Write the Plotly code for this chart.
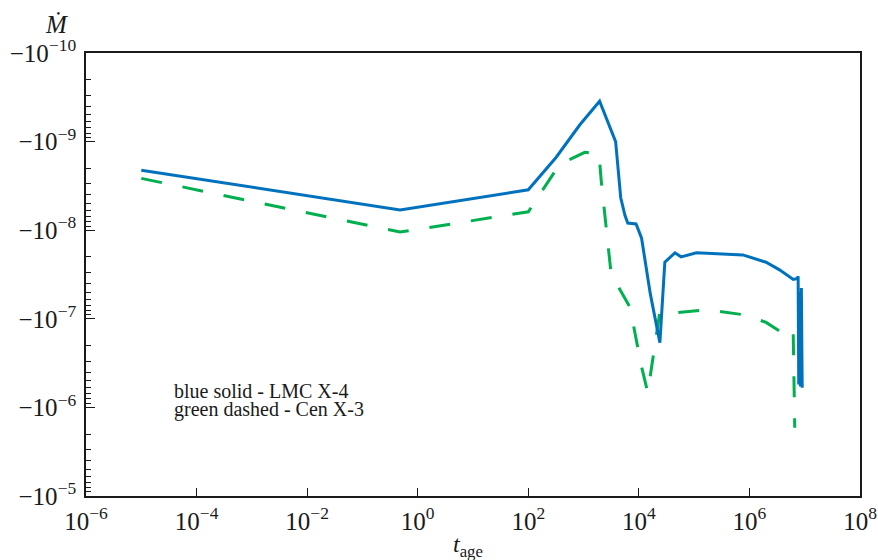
import plotly.graph_objects as go

# LMC X-4 (blue solid): age t and |Mdot|
t_lmc = [1e-5, 0.48, 100, 320, 850, 1950, 3800, 4700, 5600, 6300, 8900, 1.12e4,
         1.6e4, 2.4e4, 2.95e4, 4.5e4, 5.8e4, 1.1e5, 7.6e5, 2.0e6, 3.5e6, 6.2e6,
         7.4e6, 7.6e6, 7.8e6, 8.1e6, 8.4e6, 8.7e6, 9.0e6]
m_lmc = [2.1e-9, 5.9e-9, 3.5e-9, 1.5e-9, 6.5e-10, 3.5e-10, 1.0e-9, 4.3e-9, 6.8e-9,
         8.3e-9, 8.5e-9, 1.23e-8, 5.1e-8, 1.86e-7, 2.3e-8, 1.8e-8, 2.0e-8, 1.8e-8,
         1.9e-8, 2.3e-8, 2.8e-8, 3.6e-8, 3.5e-8, 3.3e-8, 5.5e-7, 5.0e-8, 5.8e-7,
         4.5e-8, 6.0e-7]

# Cen X-3 (green dashed)
t_cen = [1e-5, 0.48, 100, 370, 1050, 1900, 2100, 2750, 3200, 4200, 6900, 1.12e4,
         1.45e4, 2.4e4, 3.6e4, 1.7e5, 3.3e5, 8.9e5, 2.0e6, 4.4e6, 5.4e6, 6.2e6, 6.6e6]
m_cen = [2.6e-9, 1.05e-8, 6.2e-9, 1.8e-9, 1.32e-9, 1.38e-9, 2.9e-9, 1.29e-8, 3.4e-8,
         4.3e-8, 7.4e-8, 3.5e-7, 6.8e-7, 8.3e-8, 8.7e-8, 7.9e-8, 8.3e-8, 9.1e-8,
         1.1e-7, 1.5e-7, 1.74e-7, 1.5e-7, 1.7e-6]

x_ticks = [1e-6, 1e-4, 1e-2, 1e0, 1e2, 1e4, 1e6, 1e8]
x_labels = ["10<sup>−6</sup>", "10<sup>−4</sup>", "10<sup>−2</sup>", "10<sup>0</sup>",
            "10<sup>2</sup>", "10<sup>4</sup>", "10<sup>6</sup>", "10<sup>8</sup>"]
y_ticks = [1e-10, 1e-9, 1e-8, 1e-7, 1e-6, 1e-5]
y_labels = ["−10<sup>−10</sup>", "−10<sup>−9</sup>", "−10<sup>−8</sup>",
            "−10<sup>−7</sup>", "−10<sup>−6</sup>", "−10<sup>−5</sup>"]
legend_lines = ["blue solid - LMC X-4", "green dashed - Cen X-3"]

BLUE = "#0072bd"
GREEN = "#00b04f"
INK = "#1a1a1a"
FONT = "Liberation Serif"

fig = go.Figure()
fig.add_trace(go.Scatter(x=t_cen, y=m_cen, mode="lines",
                         line=dict(color=GREEN, width=3, dash="21px,21px"),
                         showlegend=False))
fig.add_trace(go.Scatter(x=t_lmc, y=m_lmc, mode="lines",
                         line=dict(color=BLUE, width=3),
                         showlegend=False))

axis_common = dict(showline=True, linecolor=INK, linewidth=1.5, mirror=True,
                   ticks="inside", tickcolor=INK, tickwidth=1.2,
                   showgrid=False, zeroline=False, automargin=False,
                   tickfont=dict(family=FONT, size=25, color=INK))

fig.update_xaxes(type="log", range=[-6, 8], tickvals=x_ticks, ticktext=x_labels,
                 ticklen=8, ticklabelstandoff=2, **axis_common)
fig.update_yaxes(type="log", range=[-5, -10], tickvals=y_ticks, ticktext=y_labels,
                 ticklen=9, ticklabelstandoff=3,
                 minor=dict(ticks="inside", ticklen=5, tickcolor=INK, tickwidth=1,
                            dtick="D1", showgrid=False),
                 **axis_common)

fig.add_annotation(text="<i>Ṁ</i>", showarrow=False,
                   font=dict(family=FONT, size=25, color=INK),
                   xref="paper", yref="paper", x=-0.0465, y=1.07,
                   xanchor="left", yanchor="middle", xshift=-7, yshift=-3)
fig.add_annotation(text="<i>t</i><sub>age</sub>", showarrow=False,
                   font=dict(family=FONT, size=24, color=INK),
                   xref="paper", yref="paper", x=0.4935, y=-0.112,
                   xanchor="center", yanchor="middle")
for i, line in enumerate(legend_lines):
    fig.add_annotation(text=line, showarrow=False, align="left",
                       font=dict(family=FONT, size=20, color=INK),
                       xref="paper", yref="paper", x=0.111, y=0.237 - i * 0.042,
                       xanchor="left", yanchor="middle")

fig.update_layout(width=878, height=560, plot_bgcolor="white", paper_bgcolor="white",
                  margin=dict(l=86, r=18, t=53, b=64))

fig.write_html("out.html", config={"displayModeBar": False},
               post_script="document.body.style.margin='0';"
                           "document.body.style.overflow='hidden';")
